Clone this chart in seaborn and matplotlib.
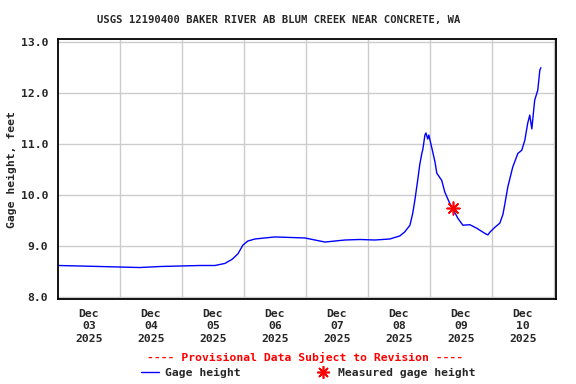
import pandas as pd
import seaborn as sns
import matplotlib
matplotlib.use("Agg")
import matplotlib.pyplot as plt
from matplotlib.lines import Line2D

# hours since Dec 03 2025 00:00 and gage height (ft)
hours = [0, 8.5, 16.3, 24, 31.7, 39.5, 47.2, 55, 60.8, 64.6, 67.4, 69.7, 71.6, 73.5,
         76.3, 80.1, 84, 89.8, 95.6, 99.5, 103.4, 107.2, 111.1, 116.9, 122.7, 128.5,
         132.4, 134.3, 136.3, 137.4, 138.2, 139.4, 140.1, 140.9, 141.3, 142.1, 142.5,
         143.2, 143.6, 144.8, 146, 146.7, 148.6, 149.8, 151.7, 152.9, 154.8, 156.8,
         159.5, 162.2, 165.3, 166.5, 167.2, 169.2, 171.1, 172.3, 173.1, 174.2, 176.1,
         178.1, 179.6, 180.8, 181.9, 182.7, 183.5, 184.6, 185.8, 186.6, 187]
gage = [8.62, 8.61, 8.60, 8.59, 8.58, 8.60, 8.61, 8.62, 8.62, 8.66, 8.74, 8.85, 9.02, 9.10,
        9.14, 9.16, 9.18, 9.17, 9.16, 9.12, 9.08, 9.10, 9.12, 9.13, 9.12, 9.14,
        9.20, 9.28, 9.41, 9.65, 9.90, 10.33, 10.60, 10.82, 10.90, 11.18, 11.22,
        11.10, 11.18, 10.92, 10.65, 10.43, 10.29, 10.06, 9.84, 9.74, 9.55, 9.41,
        9.42, 9.35, 9.25, 9.22, 9.27, 9.37, 9.45, 9.62, 9.84, 10.16, 10.55,
        10.82, 10.88, 11.08, 11.41, 11.57, 11.30, 11.86, 12.06, 12.45, 12.50]
meas_hours = [152.8]
meas_gage = [9.75]

day_labels = ["Dec\n03\n2025", "Dec\n04\n2025", "Dec\n05\n2025", "Dec\n06\n2025",
              "Dec\n07\n2025", "Dec\n08\n2025", "Dec\n09\n2025", "Dec\n10\n2025"]
y_ticks = [8.0, 9.0, 10.0, 11.0, 12.0, 13.0]

t0 = pd.Timestamp("2025-12-03")
df = pd.DataFrame({"time": t0 + pd.to_timedelta(hours, unit="h"), "gage": gage})
dm = pd.DataFrame({"time": t0 + pd.to_timedelta(meas_hours, unit="h"), "gage": meas_gage})

sns.set_style("white")
plt.rcParams["font.family"] = ["DejaVu Sans Mono"]
plt.rcParams["font.weight"] = "bold"

fig = plt.figure(figsize=(5.76, 3.84), dpi=100)
ax = fig.add_axes([0.1007, 0.221, 0.8643, 0.677])

sns.lineplot(x="time", y="gage", data=df, color="#0000ff", linewidth=1, ax=ax)
sns.scatterplot(x="time", y="gage", data=dm, color="red", marker=(8, 2, 0), s=80,
                linewidth=1.2, edgecolor="red", ax=ax, zorder=5)

ax.set_xlim(t0, t0 + pd.Timedelta(hours=192.8))
ax.set_ylim(7.96, 13.06)
midnights = [t0 + pd.Timedelta(days=i) for i in range(1, 9)]
noons = [t0 + pd.Timedelta(hours=12 + 24 * i) for i in range(8)]
ax.set_xticks(midnights)
ax.set_xticklabels([])
ax.set_xticks(noons, minor=True)
ax.set_xticklabels(day_labels, minor=True, fontsize=8.2, fontweight="bold", linespacing=1.3)
ax.set_yticks(y_ticks)
ax.set_yticklabels([f"{v:.1f}" for v in y_ticks], fontsize=8.2, fontweight="bold")
ax.tick_params(which="both", length=0)
ax.tick_params(axis="x", which="minor", pad=7)
ax.tick_params(axis="y", pad=7)
ax.grid(True, which="major", color="#cccccc", linewidth=1)
for s in ax.spines.values():
    s.set_color("black")
    s.set_linewidth(1.3)
ax.set_xlabel("")
ax.set_ylabel("Gage height, feet", fontsize=8.2, fontweight="bold", labelpad=3)

fig.text(0.483, 0.948, "USGS 12190400 BAKER RIVER AB BLUM CREEK NEAR CONCRETE, WA",
         ha="center", va="center", fontsize=7.6, fontweight="bold")
fig.text(0.53, 0.068, "---- Provisional Data Subject to Revision ----",
         ha="center", va="center", fontsize=8.2, fontweight="bold", color="red")

handles = [Line2D([], [], color="#0000ff", linewidth=1),
           Line2D([], [], color="red", marker=(8, 2, 0), markersize=9, linestyle="none",
                  markeredgewidth=1.2)]
fig.legend(handles, ["Gage height", "Measured gage height"], ncol=2, frameon=False,
           loc="center", bbox_to_anchor=(0.535, 0.028), prop={"size": 8.2, "weight": "bold"},
           handlelength=1.6, handletextpad=0.5, columnspacing=6.5, borderpad=0)

fig.savefig("out.png", dpi=100)
